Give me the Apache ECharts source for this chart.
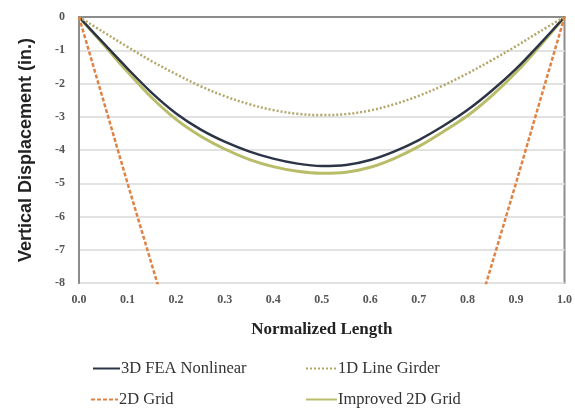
<!DOCTYPE html>
<html><head><meta charset="utf-8">
<script src="https://cdn.jsdelivr.net/npm/echarts@6/dist/echarts.min.js"></script>
<style>html,body{margin:0;padding:0;background:#fff}#c{width:575px;height:411px}</style>
</head><body><div id="c"></div>
<script>
const xs = [0,0.05,0.1,0.15,0.2,0.25,0.3,0.35,0.4,0.45,0.5,0.55,0.6,0.65,0.7,0.75,0.8,0.85,0.9,0.95,1.0];
const fea3d   = [0,-0.78,-1.55,-2.28,-2.9,-3.38,-3.75,-4.04,-4.26,-4.41,-4.48,-4.45,-4.3,-4.04,-3.7,-3.28,-2.8,-2.22,-1.56,-0.8,0];
const improved= [0,-0.82,-1.65,-2.43,-3.08,-3.58,-3.97,-4.28,-4.5,-4.64,-4.7,-4.67,-4.52,-4.25,-3.89,-3.45,-2.97,-2.37,-1.67,-0.86,0];
const line1d  = [0,-0.45,-0.9,-1.33,-1.72,-2.08,-2.38,-2.62,-2.8,-2.91,-2.95,-2.92,-2.81,-2.62,-2.37,-2.06,-1.7,-1.3,-0.88,-0.43,0];
const grid2dX = [0,0.1,0.2,0.3,0.4,0.5,0.6,0.7,0.8,0.9,1.0];
const grid2d  = [0,-5.0,-9.9,-13.2,-15.0,-15.6,-15.0,-13.2,-9.9,-5.0,0];
const yTicks = [0,-1,-2,-3,-4,-5,-6,-7,-8];
const names = ['3D FEA Nonlinear','1D Line Girder','2D Grid','Improved 2D Grid'];

const pair = (x,y)=>x.map((v,i)=>[v,y[i]]);
const legText = {fontFamily:'Liberation Serif',fontSize:16.5,color:'#333',padding:[0,0,0,-4]};
const mkLeg = (name,left,top,w)=>({data:[name],left:left,top:top,itemWidth:w,itemHeight:3,itemGap:0,padding:0,
  itemStyle:{opacity:0},textStyle:legText});
const chart = echarts.init(document.getElementById('c'));
chart.setOption({
  animation:false,
  grid:{left:79,right:9,top:17,bottom:128,show:true,borderColor:'#8c8c8c',borderWidth:2},
  xAxis:{type:'value',min:0,max:1,interval:0.1,
    name:'Normalized Length',nameLocation:'middle',nameGap:38,
    nameTextStyle:{fontFamily:'Liberation Serif',fontWeight:'bold',fontSize:17,color:'#222'},
    axisLine:{show:true,lineStyle:{color:'#8c8c8c',width:2}},
    axisTick:{show:false},splitLine:{show:false},
    axisLabel:{formatter:v=>v.toFixed(1),fontFamily:'Liberation Serif',fontWeight:'bold',fontSize:12,color:'#555',margin:11}},
  yAxis:{type:'value',min:-8,max:0,interval:1,
    name:'Vertical Displacement (in.)',nameLocation:'middle',nameGap:44,
    nameTextStyle:{fontFamily:'Liberation Sans',fontWeight:'bold',fontSize:18,color:'#222'},
    axisLine:{show:true,lineStyle:{color:'#8c8c8c',width:2}},
    axisTick:{show:false},
    splitLine:{show:true,lineStyle:{color:'#e2e2e2',width:2}},
    axisLabel:{fontFamily:'Liberation Serif',fontWeight:'bold',fontSize:12,color:'#555',margin:14}},
  legend:[
    mkLeg(names[0],92,360,27),
    mkLeg(names[1],305,360,31),
    mkLeg(names[2],90,391,27),
    mkLeg(names[3],305,391,31)
  ],
  series:[
    {name:names[3],type:'line',data:pair(xs,improved),smooth:0.35,symbol:'none',z:2,
     lineStyle:{color:'#b9bd6a',width:3},itemStyle:{color:'#b9bd6a'}},
    {name:names[0],type:'line',data:pair(xs,fea3d),smooth:0.35,symbol:'none',z:3,
     lineStyle:{color:'#2c3446',width:2.5},itemStyle:{color:'#2c3446'}},
    {name:names[1],type:'line',data:pair(xs,line1d),smooth:0.35,symbol:'none',z:3,
     lineStyle:{color:'#b3a76a',width:2.5,type:[2,2]},itemStyle:{color:'#b3a76a'}},
    {name:names[2],type:'line',data:pair(grid2dX,grid2d),smooth:false,symbol:'none',z:3,clip:true,
     lineStyle:{color:'#e08244',width:2.5,type:[4,2]},itemStyle:{color:'#e08244'}}
  ]
});
</script></body></html>
